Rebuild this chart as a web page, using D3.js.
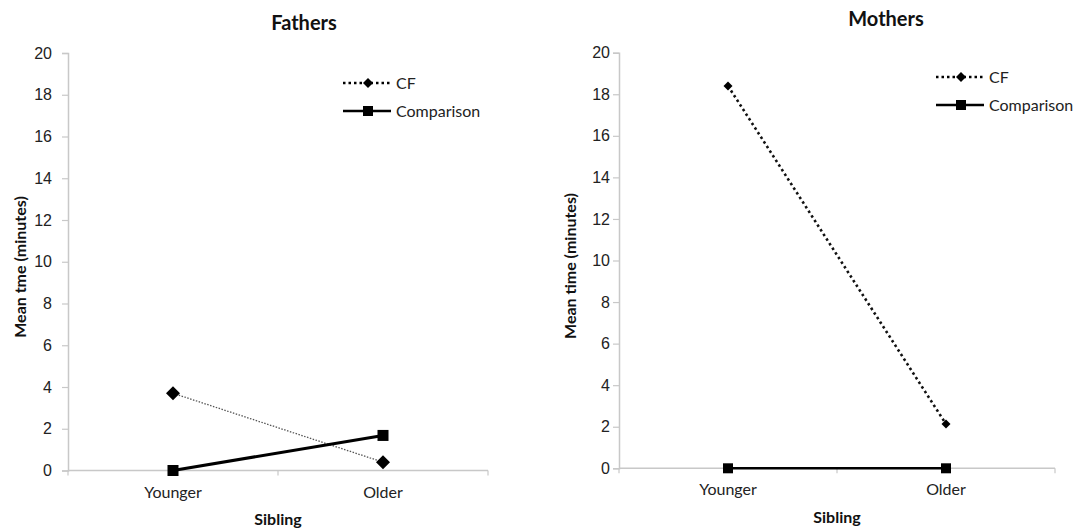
<!DOCTYPE html>
<html>
<head>
<meta charset="utf-8">
<script src="https://cdn.jsdelivr.net/npm/d3@7"></script>
<style>
  body { margin: 0; background: #fff; }
  svg { display: block; font-family: Lato, "Open Sans", sans-serif; }
  .tick text { font-size: 16px; fill: #222; }
</style>
</head>
<body>
<svg id="chart" width="1073" height="530"></svg>
<script>
// Sibling categories and mean times (minutes)
const siblings = ["Younger", "Older"];
const yTicks = [0, 2, 4, 6, 8, 10, 12, 14, 16, 18, 20];

const fathersCF = [3.7, 0.4];
const fathersComparison = [0.0, 1.68];
const mothersCF = [18.4, 2.13];
const mothersComparison = [0.0, 0.0];

const svg = d3.select("#chart");

const panels = [
  {
    title: "Fathers", yLabel: "Mean tme (minutes)",
    x0: 68, x1: 488, yTop: 53, yBottom: 470.5,
    tickSize: 6, tickPad: 10,
    titleX: 304, titleY: 29.5, yLabelX: 26, yLabelY: 267, xLabelY: 525,
    legendX: 343, legendY: 83,
    cf: fathersCF, comp: fathersComparison,
    cfStyle: { width: 1.3, dash: "1.5,1.5", color: "#555", marker: 7 },
    compWidth: 3, sq: 11
  },
  {
    title: "Mothers", yLabel: "Mean time (minutes)",
    x0: 619, x1: 1055, yTop: 52.7, yBottom: 468.3,
    tickSize: 6, tickPad: 3,
    titleX: 886, titleY: 25.5, yLabelX: 576, yLabelY: 266, xLabelY: 523,
    legendX: 936, legendY: 77,
    cf: mothersCF, comp: mothersComparison,
    cfStyle: { width: 2.6, dash: "2.5,3", color: "#111", marker: 4.5 },
    compWidth: 2.5, sq: 10
  }
];

panels.forEach(p => {
  const g = svg.append("g");
  const x = d3.scaleBand().domain(siblings).range([p.x0, p.x1]);
  const y = d3.scaleLinear().domain([0, 20]).range([p.yBottom, p.yTop]);
  const cx = d => x(d) + x.bandwidth() / 2;

  // y axis
  const yAxis = g.append("g")
    .attr("transform", `translate(${p.x0},0)`)
    .call(d3.axisLeft(y).tickValues(yTicks).tickSize(p.tickSize).tickPadding(p.tickPad));
  yAxis.select(".domain").attr("stroke", "#c8c8c8").attr("stroke-width", 1.5);
  yAxis.selectAll(".tick line").attr("stroke", "#c8c8c8").attr("stroke-width", 1.2);

  // x axis with boundary ticks between categories
  const xAxis = g.append("g").attr("transform", `translate(0,${p.yBottom})`);
  xAxis.append("line")
    .attr("x1", p.x0).attr("x2", p.x1)
    .attr("stroke", "#c8c8c8").attr("stroke-width", 1.5);
  const bounds = [p.x0, x(siblings[1]), p.x1];
  xAxis.selectAll("line.b").data(bounds).enter().append("line")
    .attr("class", "b")
    .attr("x1", d => d).attr("x2", d => d)
    .attr("y1", 0).attr("y2", 5)
    .attr("stroke", "#c8c8c8").attr("stroke-width", 1.2);
  xAxis.selectAll("text").data(siblings).enter().append("text")
    .attr("x", d => cx(d)).attr("y", 27)
    .attr("text-anchor", "middle")
    .attr("font-size", 16).attr("fill", "#222")
    .text(d => d);

  // titles
  g.append("text").attr("x", p.titleX).attr("y", p.titleY)
    .attr("text-anchor", "middle").attr("font-size", 20).attr("font-weight", "bold")
    .attr("fill", "#111").text(p.title);
  g.append("text").attr("x", x(siblings[1]))
    .attr("y", p.xLabelY)
    .attr("text-anchor", "middle").attr("font-size", 16).attr("font-weight", "bold")
    .attr("fill", "#111").text("Sibling");
  g.append("text")
    .attr("transform", `translate(${p.yLabelX},${p.yLabelY}) rotate(-90)`)
    .attr("text-anchor", "middle").attr("font-size", 16).attr("font-weight", "bold")
    .attr("fill", "#111").text(p.yLabel);

  const line = d3.line().x(d => cx(d.k)).y(d => y(d.v));
  const cfPts = siblings.map((k, i) => ({ k, v: p.cf[i] }));
  const compPts = siblings.map((k, i) => ({ k, v: p.comp[i] }));

  // CF series (dotted, diamonds)
  g.append("path").datum(cfPts).attr("d", line)
    .attr("fill", "none").attr("stroke", p.cfStyle.color)
    .attr("stroke-width", p.cfStyle.width).attr("stroke-dasharray", p.cfStyle.dash);
  const diamond = s => `M0,${-s}L${s},0L0,${s}L${-s},0Z`;
  g.selectAll("path.cfm").data(cfPts).enter().append("path")
    .attr("class", "cfm")
    .attr("d", diamond(p.cfStyle.marker))
    .attr("transform", d => `translate(${cx(d.k)},${y(d.v)})`)
    .attr("fill", "#000");

  // Comparison series (solid, squares)
  g.append("path").datum(compPts).attr("d", line)
    .attr("fill", "none").attr("stroke", "#000").attr("stroke-width", p.compWidth);
  g.selectAll("rect.cm").data(compPts).enter().append("rect")
    .attr("class", "cm")
    .attr("x", d => cx(d.k) - p.sq / 2).attr("y", d => y(d.v) - p.sq / 2)
    .attr("width", p.sq).attr("height", p.sq).attr("fill", "#000");

  // legend
  const lg = g.append("g").attr("transform", `translate(${p.legendX},${p.legendY})`);
  lg.append("line").attr("x1", 0).attr("x2", 48).attr("y1", 0).attr("y2", 0)
    .attr("stroke", "#000").attr("stroke-width", 2.5).attr("stroke-dasharray", "2.5,3");
  lg.append("path").attr("d", diamond(5)).attr("transform", "translate(25,0)").attr("fill", "#000");
  lg.append("text").attr("x", 53).attr("y", 5.5).attr("font-size", 16).attr("fill", "#222").text("CF");
  lg.append("line").attr("x1", 0).attr("x2", 48).attr("y1", 28).attr("y2", 28)
    .attr("stroke", "#000").attr("stroke-width", 2.5);
  lg.append("rect").attr("x", 20).attr("y", 23).attr("width", 10).attr("height", 10).attr("fill", "#000");
  lg.append("text").attr("x", 53).attr("y", 33.5).attr("font-size", 16).attr("fill", "#222").text("Comparison");
});
</script>
</body>
</html>
